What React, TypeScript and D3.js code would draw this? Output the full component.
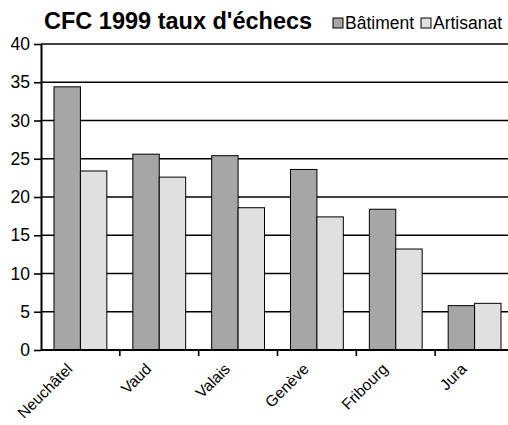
import { useEffect, useRef } from 'react';
import * as d3 from 'd3';

const cantons = ['Neuchâtel', 'Vaud', 'Valais', 'Genève', 'Fribourg', 'Jura'];
const series = ['Bâtiment', 'Artisanat'];
const batiment = [34.4, 25.6, 25.4, 23.6, 18.4, 5.8];
const artisanat = [23.4, 22.6, 18.6, 17.4, 13.2, 6.1];
const yTicks = [0, 5, 10, 15, 20, 25, 30, 35, 40];
const colors = ['#a6a6a6', '#e0e0e0'];

export default function App() {
  const svgRef = useRef<SVGSVGElement>(null);

  useEffect(() => {
    if (!svgRef.current) return;
    const svg = d3.select(svgRef.current);
    svg.selectAll('*').remove();

    const left = 41, right = 514, top = 44, bottom = 350;
    const font = 'Arial, "Liberation Sans", sans-serif';

    const x0 = d3.scaleBand<string>()
      .domain(cantons)
      .range([left, right])
      .paddingInner(0.33)
      .paddingOuter(0.165);
    const x1 = d3.scaleBand<string>()
      .domain(series)
      .range([0, x0.bandwidth()]);
    const y = d3.scaleLinear().domain([0, 40]).range([bottom, top]);

    // grid lines
    svg.append('g')
      .selectAll('line')
      .data(yTicks.slice(1))
      .enter()
      .append('line')
      .attr('x1', left)
      .attr('x2', right)
      .attr('y1', d => y(d))
      .attr('y2', d => y(d))
      .attr('stroke', '#000')
      .attr('stroke-width', 1.6);

    // bars
    const rows = cantons.map((c, i) => ({ c, vals: [batiment[i], artisanat[i]] }));
    const groups = svg.append('g')
      .selectAll('g')
      .data(rows)
      .enter()
      .append('g')
      .attr('transform', d => `translate(${x0(d.c)},0)`);
    groups.selectAll('rect')
      .data(d => d.vals.map((v, j) => ({ s: series[j], v, j })))
      .enter()
      .append('rect')
      .attr('x', d => x1(d.s) as number)
      .attr('width', x1.bandwidth())
      .attr('y', d => y(d.v))
      .attr('height', d => y(0) - y(d.v))
      .attr('fill', d => colors[d.j])
      .attr('stroke', '#000')
      .attr('stroke-width', 1);

    // y axis
    const yAxis = svg.append('g')
      .attr('transform', `translate(${left},0)`)
      .call(d3.axisLeft(y).tickValues(yTicks).tickSize(7).tickPadding(4).tickSizeOuter(0));
    yAxis.select('.domain').attr('stroke', '#000').attr('stroke-width', 2);
    yAxis.selectAll('.tick line').attr('stroke', '#000').attr('stroke-width', 1.6);
    yAxis.selectAll('text')
      .attr('font-family', font)
      .attr('font-size', 17.5)
      .attr('fill', '#000');

    // x axis
    const boundaries = cantons.map(c => (x0(c) as number) - x0.step() * 0.165);
    const xAxis = svg.append('g');
    xAxis.append('line')
      .attr('x1', left).attr('x2', right)
      .attr('y1', bottom).attr('y2', bottom)
      .attr('stroke', '#000').attr('stroke-width', 2);
    xAxis.selectAll('.xt')
      .data(boundaries.slice(1))
      .enter()
      .append('line')
      .attr('x1', d => d).attr('x2', d => d)
      .attr('y1', bottom).attr('y2', bottom + 6)
      .attr('stroke', '#000').attr('stroke-width', 1.6);
    xAxis.selectAll('text')
      .data(cantons)
      .enter()
      .append('text')
      .attr('transform', d => `translate(${(x0(d) as number) + x0.bandwidth() / 2 - 7},${bottom + 20}) rotate(-45)`)
      .attr('text-anchor', 'end')
      .attr('font-family', font)
      .attr('font-size', 15.5)
      .attr('fill', '#000')
      .text(d => d);

    // title
    svg.append('text')
      .attr('x', 44)
      .attr('y', 29)
      .attr('font-family', font)
      .attr('font-size', 23.5)
      .attr('font-weight', 'bold')
      .text("CFC 1999 taux d'échecs");

    // legend
    const legX = [333, 421];
    series.forEach((s, i) => {
      svg.append('rect')
        .attr('x', legX[i]).attr('y', 18)
        .attr('width', 10).attr('height', 10)
        .attr('fill', colors[i]).attr('stroke', '#000').attr('stroke-width', 1);
      svg.append('text')
        .attr('x', legX[i] + 12).attr('y', 29)
        .attr('font-family', font)
        .attr('font-size', 17.5)
        .text(s);
    });
  }, []);

  return (
    <svg
      ref={svgRef}
      width={508}
      height={425}
      style={{ position: 'absolute', left: 0, top: 0, background: '#fff' }}
    />
  );
}
